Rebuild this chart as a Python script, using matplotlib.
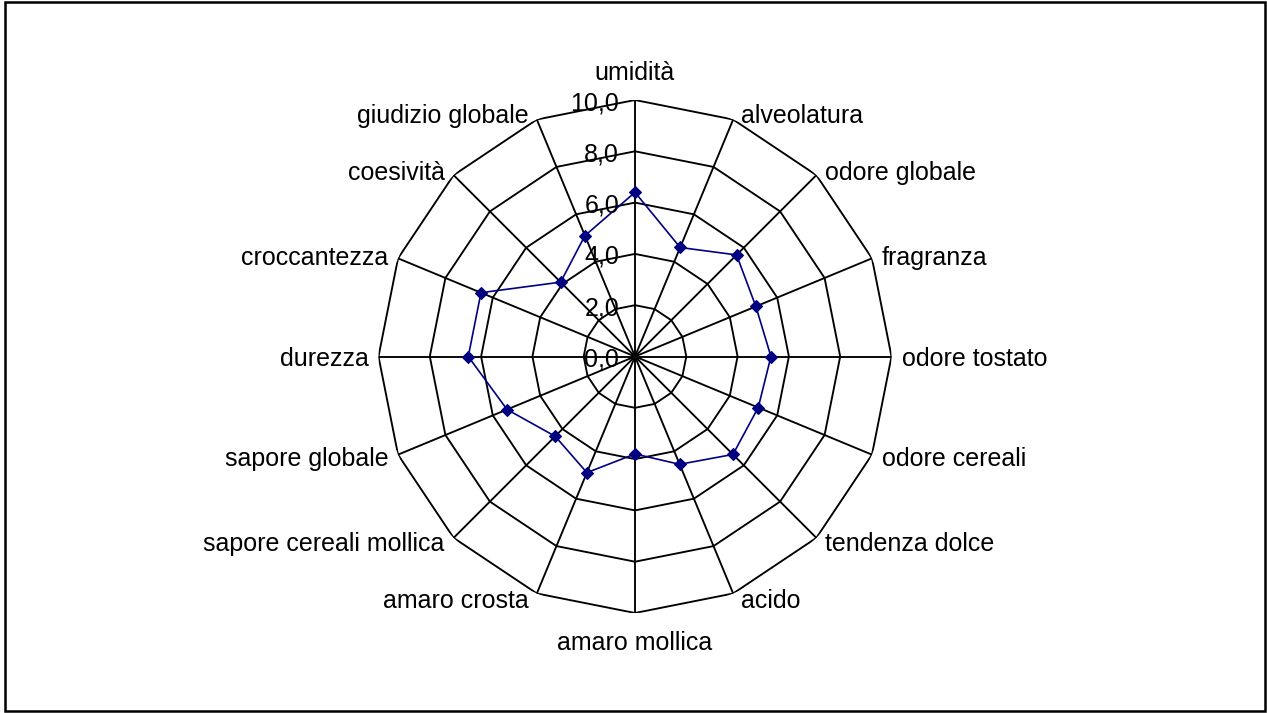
import numpy as np
import matplotlib
matplotlib.use("Agg")
import matplotlib.pyplot as plt
from matplotlib.patches import Rectangle

plt.rcParams['font.family'] = ['Liberation Sans', 'DejaVu Sans']

categories = ["umidità", "alveolatura", "odore globale", "fragranza", "odore tostato",
              "odore cereali", "tendenza dolce", "acido", "amaro mollica", "amaro crosta",
              "sapore cereali mollica", "sapore globale", "durezza", "croccantezza",
              "coesività", "giudizio globale"]
values = [6.4, 4.6, 5.6, 5.1, 5.3, 5.2, 5.4, 4.55, 3.8, 4.9, 4.4, 5.4, 6.5, 6.5, 4.1, 5.1]
ring_levels = [2, 4, 6, 8, 10]
tick_values = [0, 2, 4, 6, 8, 10]
tick_labels = ["0,0", "2,0", "4,0", "6,0", "8,0", "10,0"]

W, H = 1267, 713
fig = plt.figure(figsize=(W / 100, H / 100), dpi=100)
fig.patch.set_facecolor('white')

cx, cy, R = 635, 356.5, 256.5
ax = fig.add_axes([(cx - R) / W, (H - cy - R) / H, 2 * R / W, 2 * R / H], projection='polar')
ax.set_theta_zero_location('N')
ax.set_theta_direction(-1)
ax.set_ylim(0, 10)
ax.grid(False)
ax.set_xticks([])
ax.set_yticks([])
ax.spines['polar'].set_visible(False)
ax.patch.set_visible(False)

n = len(categories)
theta = np.arange(n) * 2 * np.pi / n
theta_closed = np.append(theta, theta[0])

grid_kw = dict(color='black', lw=1.35, solid_joinstyle='miter', zorder=1)
for r in ring_levels:
    ax.plot(theta_closed, [r] * (n + 1), **grid_kw)
for t in theta:
    ax.plot([t, t], [0, ring_levels[-1]], **grid_kw)

vals_closed = np.append(values, values[0])
ax.plot(theta_closed, vals_closed, color='#000080', lw=1.2, zorder=3)
ax.plot(theta, values, linestyle='none', marker='D', ms=6.5, color='#000080',
        mec='#000080', mew=0.8, zorder=4)

fs = 18
# category labels
for t, lab in zip(theta, categories):
    s, c = np.sin(t), np.cos(t)
    if abs(s) < 1e-6:
        if c > 0:
            ha, va, dx, dy = 'center', 'baseline', 0, 20
        else:
            ha, va, dx, dy = 'center', 'top', 0, -18
    else:
        ha = 'left' if s > 0 else 'right'
        va = 'baseline'
        dx = np.sign(s) * (7 + 3 * abs(s))
        dy = -(9 - 6.5 * c)
    ax.annotate(lab, xy=(t, ring_levels[-1]), xytext=(dx, dy), textcoords='offset pixels',
                ha=ha, va=va, fontsize=fs, annotation_clip=False, zorder=5)

# radial tick labels
for v, lab in zip(tick_values, tick_labels):
    ax.annotate(lab, xy=(0, v), xytext=(-16, -10), textcoords='offset pixels',
                ha='right', va='baseline', fontsize=fs, annotation_clip=False, zorder=5)

# figure border
fig.patches.append(Rectangle((4.5 / W, 2 / H), 1260 / W, 709.5 / H, transform=fig.transFigure,
                             fill=False, edgecolor='black', lw=1.8, zorder=10))

fig.savefig('out.png', dpi=100)
